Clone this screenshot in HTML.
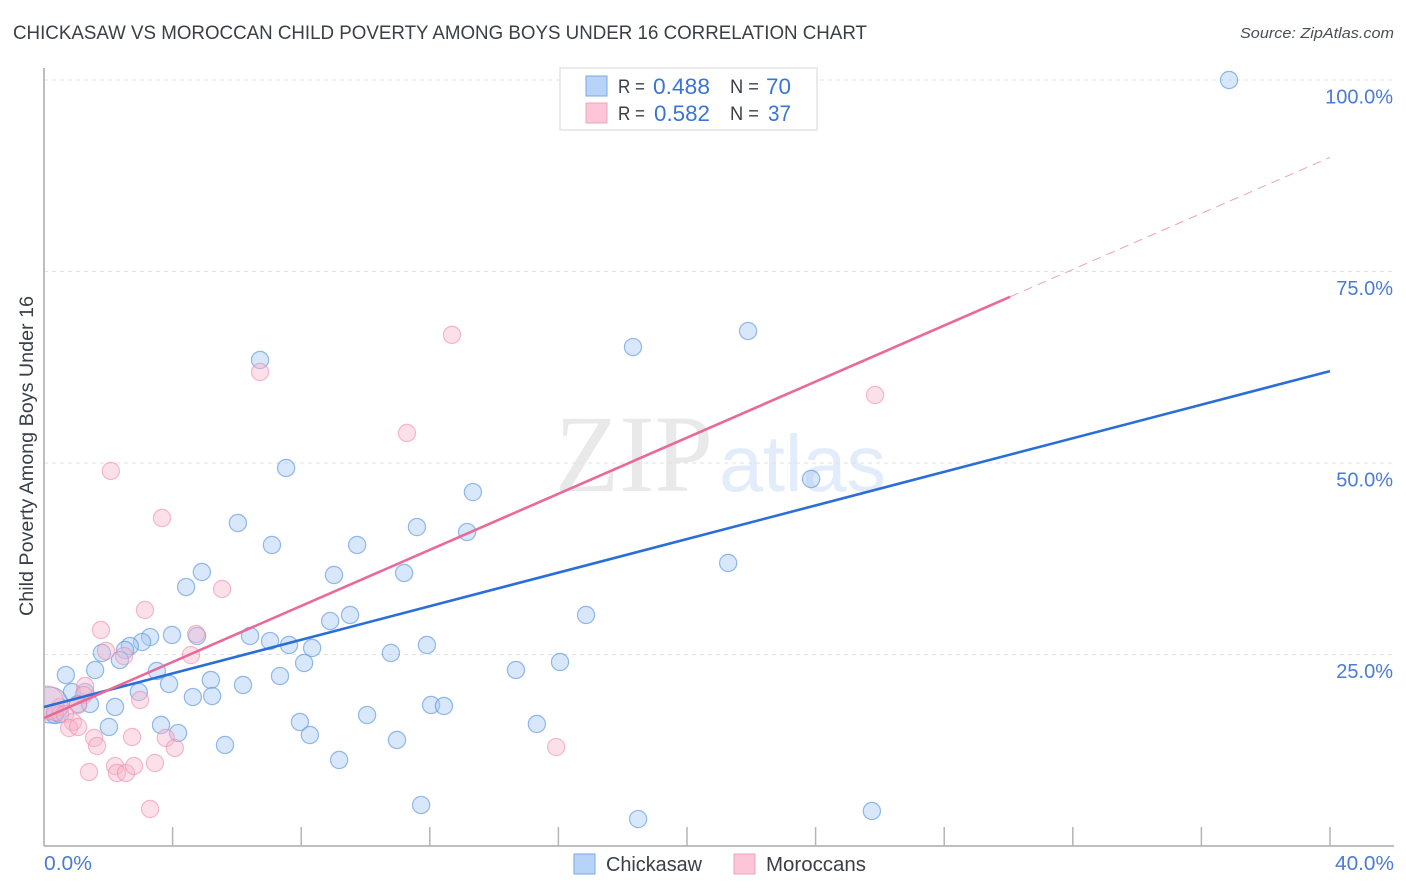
<!DOCTYPE html>
<html lang="en">
<head>
<meta charset="utf-8">
<title>Chickasaw vs Moroccan Child Poverty Among Boys Under 16 Correlation Chart</title>
<style>
html,body{margin:0;padding:0;background:#fff;width:1406px;height:892px;overflow:hidden}
svg{display:block}
text{font-family:"Liberation Sans",sans-serif}
</style>
</head>
<body>
<svg id="chart" width="1406" height="892" viewBox="0 0 1406 892" xmlns="http://www.w3.org/2000/svg">
<defs><clipPath id="plot-clip"><rect x="45" y="60" width="1349" height="785"/></clipPath></defs>
<text x="13" y="39" font-size="19" fill="#3a3f47" textLength="854" lengthAdjust="spacingAndGlyphs">CHICKASAW VS MOROCCAN CHILD POVERTY AMONG BOYS UNDER 16 CORRELATION CHART</text>
<text x="1394" y="38" font-size="15" font-style="italic" fill="#4a4f57" text-anchor="end" textLength="154" lengthAdjust="spacingAndGlyphs">Source: ZipAtlas.com</text>
<text x="555" y="491" font-size="110" fill="#e9e9e9" textLength="158" lengthAdjust="spacingAndGlyphs" style='font-family:"Liberation Serif",serif'>ZIP</text>
<text x="719" y="491" font-size="80" fill="#e3ecfa" textLength="167" lengthAdjust="spacingAndGlyphs">atlas</text>
<g id="grid"></g>
<g id="axes"></g>
<g id="points" clip-path="url(#plot-clip)"></g>
<g id="trends"></g>
<text transform="translate(33,456) rotate(-90)" font-size="19" fill="#3a3f47" text-anchor="middle" textLength="320" lengthAdjust="spacingAndGlyphs">Child Poverty Among Boys Under 16</text>
<g>
<rect x="560" y="68" width="257" height="62" fill="#fff" fill-opacity="0.9" stroke="#e4e4e4" stroke-width="1.5"/>
<rect x="586" y="76" width="21" height="20" fill="#b7d3f8" stroke="#7ba8e2" stroke-width="1"/>
<rect x="586" y="103" width="21" height="20" fill="#fcc6d8" stroke="#f0a0bc" stroke-width="1"/>
<text x="618" y="93" font-size="19" fill="#3a3f47" textLength="27" lengthAdjust="spacingAndGlyphs">R =</text>
<text x="653" y="94" font-size="22" fill="#3a75d2" textLength="57" lengthAdjust="spacingAndGlyphs">0.488</text>
<text x="730" y="93" font-size="19" fill="#3a3f47" textLength="29" lengthAdjust="spacingAndGlyphs">N =</text>
<text x="766" y="94" font-size="22" fill="#3a75d2" textLength="25" lengthAdjust="spacingAndGlyphs">70</text>
<text x="618" y="120" font-size="19" fill="#3a3f47" textLength="27" lengthAdjust="spacingAndGlyphs">R =</text>
<text x="654" y="121" font-size="22" fill="#3a75d2" textLength="56" lengthAdjust="spacingAndGlyphs">0.582</text>
<text x="730" y="120" font-size="19" fill="#3a3f47" textLength="29" lengthAdjust="spacingAndGlyphs">N =</text>
<text x="768" y="121" font-size="22" fill="#3a75d2" textLength="23" lengthAdjust="spacingAndGlyphs">37</text>
</g>
<g>
<rect x="574" y="854" width="21" height="20" fill="#b7d3f8" stroke="#7ba8e2" stroke-width="1"/>
<text x="606" y="871" font-size="20" fill="#3a3f47" textLength="96" lengthAdjust="spacingAndGlyphs">Chickasaw</text>
<rect x="734" y="854" width="21" height="20" fill="#fcc6d8" stroke="#f0a0bc" stroke-width="1"/>
<text x="766" y="871" font-size="20" fill="#3a3f47" textLength="100" lengthAdjust="spacingAndGlyphs">Moroccans</text>
</g>
</svg>
<script>
const chickasawX = [36.86,6.72,18.32,21.90,7.53,23.86,13.34,6.03,11.60,13.16,7.09,9.74,21.28,4.91,9.02,11.20,4.42,16.86,9.52,8.90,3.98,4.76,3.30,3.05,2.67,2.52,6.41,7.03,7.62,8.34,11.91,10.79,1.80,2.36,8.09,16.05,14.68,1.59,3.51,0.68,7.34,3.89,5.19,6.19,2.95,0.87,1.28,4.63,5.23,1.06,1.43,2.21,12.04,12.44,10.05,7.96,15.33,3.64,2.02,8.27,4.17,10.98,5.63,9.18,11.73,25.75,18.48,0.19,0.34,0.50];
const chickasawY = [100,63.45,65.14,67.23,49.35,47.91,46.21,42.17,41.64,40.99,39.30,39.30,36.95,35.77,35.38,35.64,33.81,30.16,30.16,29.37,27.55,27.42,27.28,26.63,26.11,25.59,27.42,26.76,26.24,25.85,26.24,25.20,25.20,24.28,23.89,24.02,22.98,22.98,22.85,22.32,22.19,21.15,21.67,21.02,20.10,20.10,20.10,19.45,19.58,18.54,18.54,18.15,18.41,18.28,17.10,16.19,15.93,15.80,15.54,14.49,14.75,13.84,13.19,11.23,5.35,4.57,3.52,18.4,17.1,17.2];
const chickasawHeavy = [67];
const moroccansX = [12.69,6.72,25.85,11.29,2.08,3.67,5.54,3.14,1.77,4.73,1.93,2.49,4.57,1.28,1.24,2.99,1.06,0.50,0.09,0.34,0.65,0.90,0.78,1.06,1.56,1.65,2.74,2.21,2.27,2.55,2.80,1.40,3.45,3.30,3.79,4.07,15.93];
const moroccansY = [66.73,61.88,58.88,53.92,48.96,42.82,33.55,30.81,28.20,27.68,25.46,24.80,24.93,20.89,19.71,19.06,18.41,18.15,18.67,17.49,17.23,16.19,15.40,15.54,14.10,13.05,14.23,10.44,9.53,9.53,10.44,9.66,10.84,4.83,14.10,12.79,12.92];
const moroccansHeavy = [18];
const chickasawTrendX = [0,40];
const chickasawTrendY = [18.15,62.0];
const moroccansTrendX = [0,30.05,40];
const moroccansTrendY = [16.7,71.7,89.9];
const xTickValues = [0,4,8,12,16,20,24,28,32,36,40];
const yTickValues = [25,50,75,100];
const xTickLabels = ["0.0%","40.0%"];
const yTickLabels = ["25.0%","50.0%","75.0%","100.0%"];

const NS = 'http://www.w3.org/2000/svg';
const xPos = v => 44 + v * 32.15;
const yPos = v => 846 - v * 7.66;
function mk(tag, parent, attrs) {
  const el = document.createElementNS(NS, tag);
  for (const k in attrs) el.setAttribute(k, attrs[k]);
  parent.appendChild(el);
  return el;
}
const grid = document.getElementById('grid');
const axes = document.getElementById('axes');
const points = document.getElementById('points');
const trends = document.getElementById('trends');

yTickValues.forEach((v, i) => {
  const g = mk('line', grid, {x1: 44, x2: 1393, y1: yPos(v), y2: yPos(v), stroke: '#e2e2e2', 'stroke-width': 1, 'stroke-dasharray': '4 4'});
  
  
  const t = mk('text', axes, {x: 1393, y: yPos(v) + 23.5, 'font-size': 20, fill: '#4a7bd6', 'text-anchor': 'end'});
  t.textContent = yTickLabels[i];
  
  
});
const yAxis = mk('line', axes, {x1: 44, x2: 44, y1: 68, y2: 846, stroke: '#aaaaaa', 'stroke-width': 1.5});


const xAxis = mk('line', axes, {x1: 44, x2: 1394, y1: 846, y2: 846, stroke: '#aaaaaa', 'stroke-width': 1.5});


xTickValues.slice(1).forEach(v => {
  const tk = mk('line', axes, {x1: xPos(v), x2: xPos(v), y1: 827, y2: 846, stroke: '#b5b5b5', 'stroke-width': 1.5});
  
  
});
const xl0 = mk('text', axes, {x: 44, y: 870, 'font-size': 20, fill: '#4a7bd6'});
xl0.textContent = xTickLabels[0];
xl0.setAttribute('textLength', '48');
xl0.setAttribute('lengthAdjust', 'spacingAndGlyphs');


const xl1 = mk('text', axes, {x: 1335, y: 870, 'font-size': 20, fill: '#4a7bd6'});
xl1.textContent = xTickLabels[1];
xl1.setAttribute('textLength', '59');
xl1.setAttribute('lengthAdjust', 'spacingAndGlyphs');



chickasawX.forEach((v, i) => {
  const c = mk('circle', points, {cx: xPos(v), cy: yPos(chickasawY[i]), r: chickasawHeavy.includes(i) ? 18 : 8.6, fill: '#a9caf4', 'fill-opacity': 0.45, stroke: '#5c96e2', 'stroke-opacity': 0.65, 'stroke-width': 1.2});
  
  
});
moroccansX.forEach((v, i) => {
  const c = mk('circle', points, {cx: xPos(v), cy: yPos(moroccansY[i]), r: moroccansHeavy.includes(i) ? 17 : 8.6, fill: '#f9b4cb', 'fill-opacity': 0.42, stroke: '#ee86a8', 'stroke-opacity': 0.55, 'stroke-width': 1.2});
  
  
});

const blueLine = mk('line', trends, {x1: xPos(chickasawTrendX[0]), y1: yPos(chickasawTrendY[0]), x2: xPos(chickasawTrendX[1]), y2: yPos(chickasawTrendY[1]), stroke: '#2a6fd8', 'stroke-width': 2.6});


const pinkLine = mk('line', trends, {x1: xPos(moroccansTrendX[0]), y1: yPos(moroccansTrendY[0]), x2: xPos(moroccansTrendX[1]), y2: yPos(moroccansTrendY[1]), stroke: '#e96a98', 'stroke-width': 2.6});


const pinkDash = mk('line', trends, {x1: xPos(moroccansTrendX[1]), y1: yPos(moroccansTrendY[1]), x2: xPos(moroccansTrendX[2]), y2: yPos(moroccansTrendY[2]), stroke: '#eda0ba', 'stroke-width': 1, 'stroke-dasharray': '9 6'});


</script>
</body>
</html>
